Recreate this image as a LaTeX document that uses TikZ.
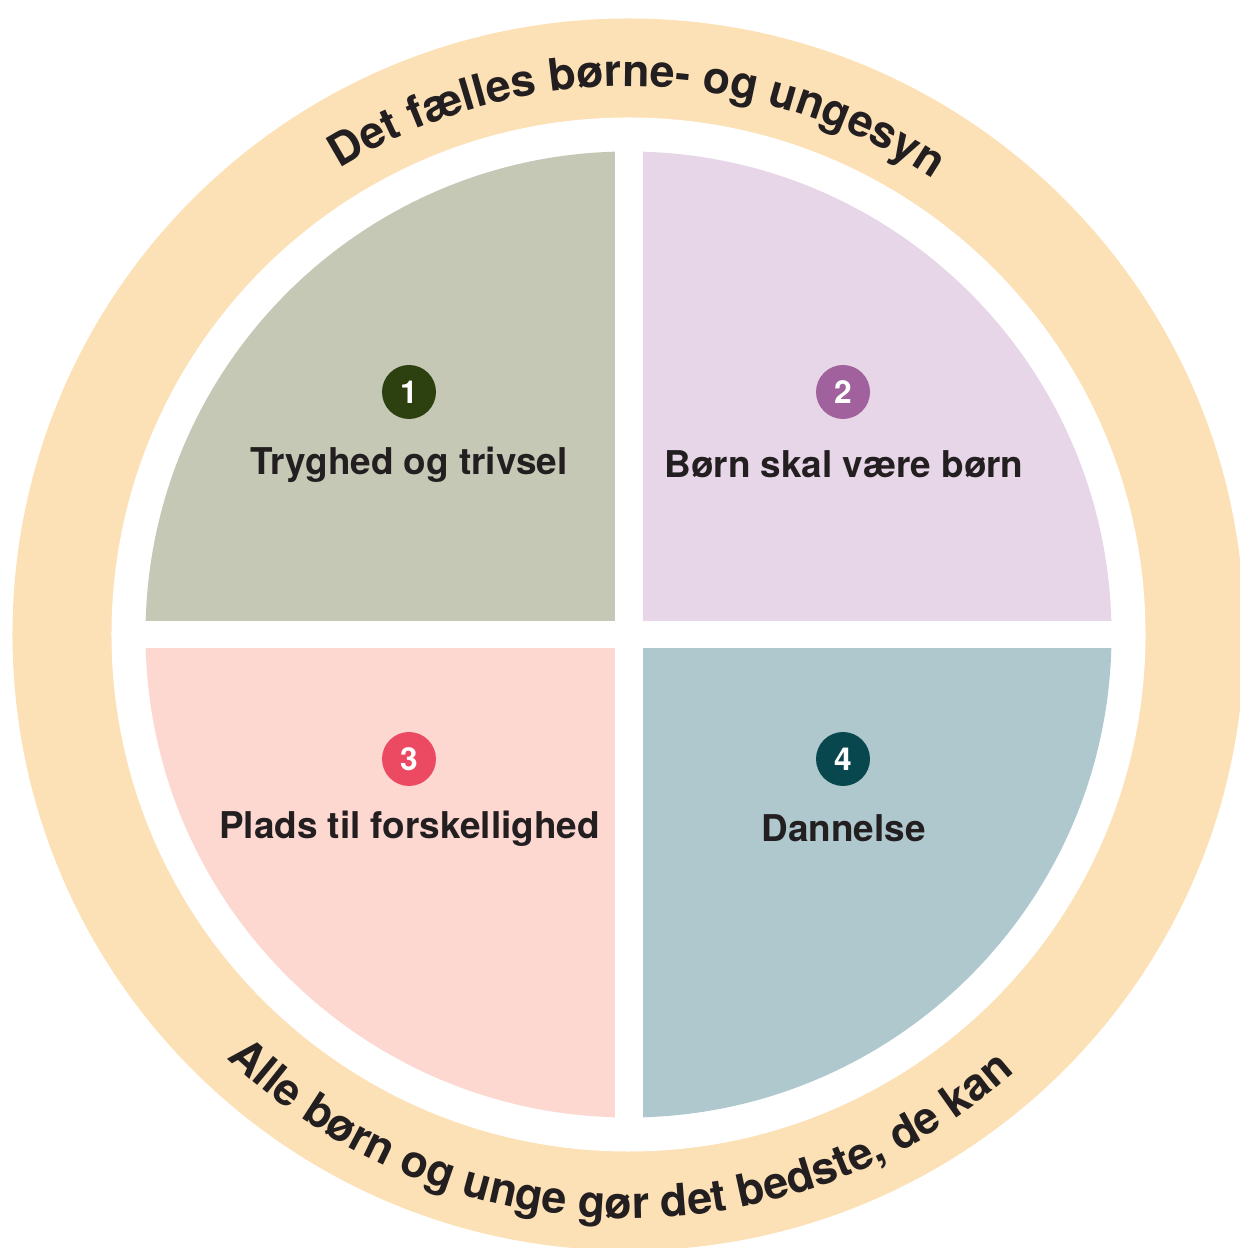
\documentclass[tikz,border=0pt]{standalone}
\usepackage{fontspec}
\setmainfont{TeX Gyre Heros}
\usetikzlibrary{decorations.text}
\definecolor{ring}{HTML}{FDE1B6}
\definecolor{sage}{HTML}{C4C8B5}
\definecolor{lilac}{HTML}{E7D6E7}
\definecolor{rose}{HTML}{FCD8D1}
\definecolor{slate}{HTML}{AFC8CE}
\definecolor{bone}{HTML}{2C4010}
\definecolor{btwo}{HTML}{A1619C}
\definecolor{bthree}{HTML}{EC4A62}
\definecolor{bfour}{HTML}{08474E}
\definecolor{ink}{HTML}{231F20}
\newcommand\ringfont{\fontsize{12.7}{15}\selectfont\bfseries\color{ink}}
\begin{document}
\begin{tikzpicture}[badge/.style={circle,minimum size=5.4mm,inner sep=0pt,text=white,font=\fontsize{9}{10}\selectfont\bfseries},
  lbl/.style={font=\fontsize{10.5}{12}\selectfont\bfseries,text=ink}]
\useasboundingbox (-6.285,-6.135) rectangle (6.105,6.345);
\fill[ring] (0,0) circle (6.16);
\fill[white] (0,0) circle (5.17);
\foreach \a/\c in {90/sage,0/lilac,180/rose,270/slate}
  \fill[\c] (0,0) -- (\a:4.83) arc[start angle=\a,delta angle=90,radius=4.83] -- cycle;
\fill[white] (-0.14,-4.9) rectangle (0.14,4.9);
\fill[white] (-4.9,-0.138) rectangle (4.9,0.138);
% ring texts
\path[decorate,decoration={text along path,text align=center,
  text={|\ringfont|Det fælles børne- og ungesyn}}] (139:5.48) arc[start angle=139,end angle=39,radius=5.48];
\path[decorate,decoration={text along path,text align=center,
  text={|\ringfont|Alle børn og unge gør det bedste, de kan}}] (219:5.84) arc[start angle=219,end angle=319,radius=5.84];
% badges and labels
\foreach \n/\x/\y/\c in {1/-2.195/2.425/bone,2/2.145/2.425/btwo,3/-2.195/-1.245/bthree,4/2.145/-1.245/bfour}
  \node[badge,fill=\c] (b\n) at (\x,\y) {\n};
\node[lbl] (t1) at (-2.195,1.7) {Tryghed og trivsel};
\node[lbl] (t2) at (2.155,1.7) {Børn skal være børn};
\node[lbl] (t3) at (-2.19,-1.94) {Plads til forskellighed};
\node[lbl] (t4) at (2.15,-1.94) {Dannelse};
\end{tikzpicture}
\end{document}
